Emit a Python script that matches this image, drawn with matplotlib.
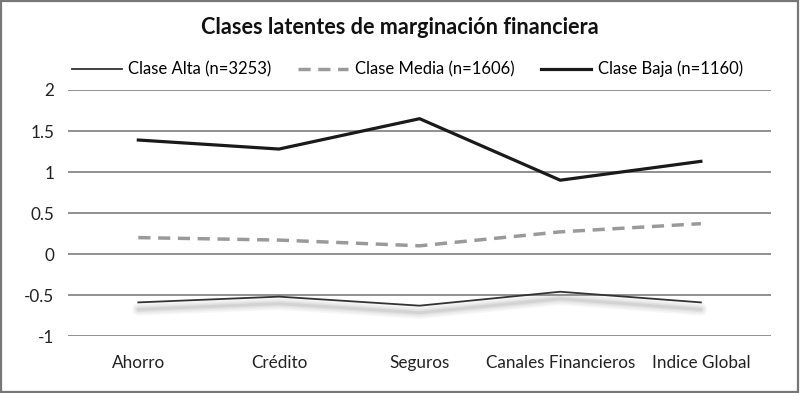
import matplotlib.pyplot as plt
import matplotlib.transforms as mtransforms
from matplotlib.patches import Rectangle

# Clases latentes
categorias = ['Ahorro', 'Crédito', 'Seguros', 'Canales Financieros', 'Indice Global']
alta = [-0.59, -0.52, -0.63, -0.46, -0.59]
media = [0.20, 0.17, 0.10, 0.27, 0.37]
baja = [1.39, 1.28, 1.65, 0.90, 1.13]
yticks = [-1, -0.5, 0, 0.5, 1, 1.5, 2]
ytick_labels = ['-1', '-0.5', '0', '0.5', '1', '1.5', '2']

plt.rcParams['font.family'] = ['Lato', 'DejaVu Sans']

fig = plt.figure(figsize=(8, 3.93), dpi=100)
ax = fig.add_axes([0.085, 0.145, 0.879, 0.626])

x = range(len(categorias))

# sombra difusa bajo la Clase Alta
sombra = mtransforms.offset_copy(ax.transData, fig=fig, x=0, y=-7, units='dots')
for w, a in [(9, 0.07), (6.5, 0.09), (4, 0.12), (2, 0.15)]:
    ax.plot(x, alta, color='#8a8a8a', lw=w, alpha=a, transform=sombra,
            solid_capstyle='round', zorder=2)

ax.plot(x, alta, color='#333333', lw=1.3, label='Clase Alta (n=3253)', zorder=3)
ax.plot(x, media, color='#9a9a9a', lw=2.5, ls=(0, (3.5, 2.2)), label='Clase Media (n=1606)', zorder=3)
ax.plot(x, baja, color='#1a1a1a', lw=2.3, label='Clase Baja (n=1160)', zorder=3)

ax.set_xlim(-0.5, 4.5)
ax.set_ylim(-1, 2)
ax.set_yticks(yticks)
ax.set_yticklabels(ytick_labels)
ax.set_xticks(list(x))
ax.set_xticklabels(categorias)
ax.tick_params(length=0, labelsize=12.3, colors='#222222')
ax.tick_params(axis='y', pad=10)
ax.tick_params(axis='x', pad=14)
ax.grid(axis='y', color='#888888', lw=1.3)
ax.set_axisbelow(True)
for s in ax.spines.values():
    s.set_visible(False)

fig.text(0.5, 0.93, 'Clases latentes de marginación financiera', ha='center', va='center',
         fontsize=15.6, fontweight='bold', color='#111111')
handles, labels = ax.get_legend_handles_labels()
fig.legend(handles, labels, loc='center', bbox_to_anchor=(0.509, 0.824), ncol=3, frameon=False,
           fontsize=12, handlelength=3.0, columnspacing=1.6, handletextpad=0.4)

fig.patches.append(Rectangle((0.001, 0.002), 0.997, 0.996, transform=fig.transFigure,
                             fill=False, edgecolor='#777777', lw=1.6))

plt.savefig('out.png', dpi=100)
plt.close()
